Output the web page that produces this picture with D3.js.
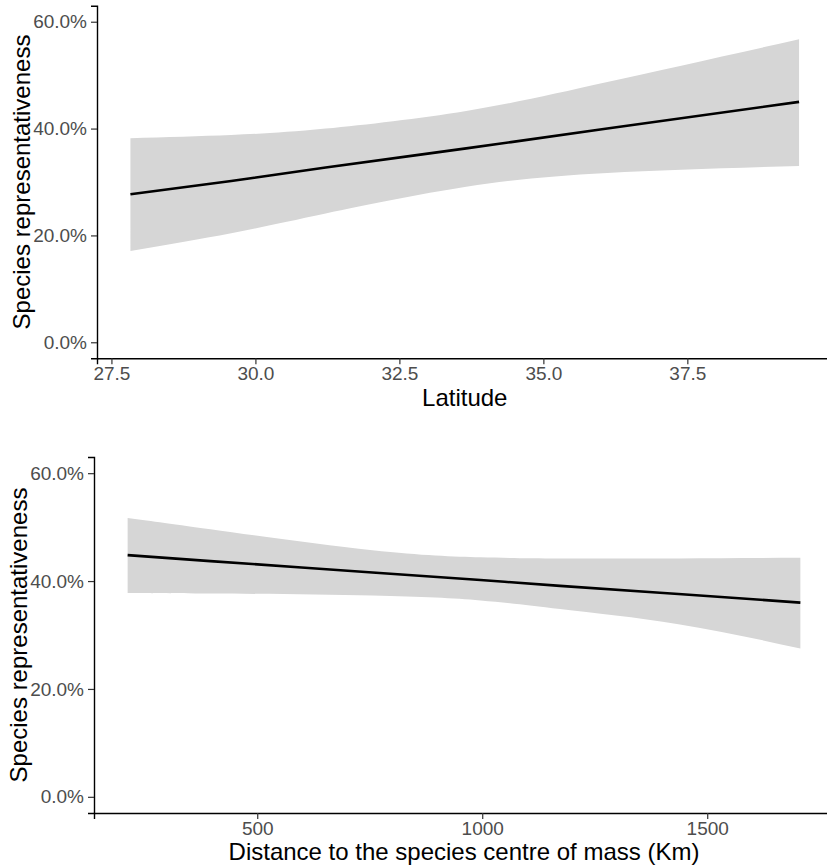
<!DOCTYPE html>
<html>
<head>
<meta charset="utf-8">
<script src="https://cdn.jsdelivr.net/npm/d3@7"></script>
<style>
  html, body { margin: 0; padding: 0; background: #fff; }
  svg { display: block; }
  text { font-family: "Liberation Sans", Arial, sans-serif; }
</style>
</head>
<body>
<svg id="chart" width="827" height="865"></svg>
<script>
// ---- Data (percent values) ----
const latitude  = [27.83, 29.58, 31.22, 33.66, 36.11, 39.44];
const latFit    = [27.7, 30.2, 32.7, 36.3, 40.0, 45.0];
const latUpper  = [38.2, 38.8, 40.0, 43.3, 48.7, 56.7];
const latLower  = [17.1, 20.4, 24.1, 29.1, 31.7, 33.0];

const distance  = [212, 396, 756, 996, 1173, 1436, 1707];
const distFit   = [44.8, 43.7, 41.6, 40.2, 39.1, 37.6, 36.0];
const distUpper = [51.7, 49.6, 45.7, 44.4, 44.2, 44.2, 44.3];
const distLower = [37.8, 37.7, 37.3, 36.4, 34.8, 32.0, 27.5];

const yTicks    = [0, 20, 40, 60];
const latTicks  = [27.5, 30.0, 32.5, 35.0, 37.5];
const distTicks = [500, 1000, 1500];

const yTitle = "Species representativeness";
const latTitle = "Latitude";
const distTitle = "Distance to the species centre of mass (Km)";

// ---- Drawing ----
const svg = d3.select("#chart");
const tickFont = 19;
const titleFont = 24;

function expand(ext, f) {
  const r = ext[1] - ext[0];
  return [ext[0] - f * r, ext[1] + f * r];
}

function panel(cfg) {
  const g = svg.append("g");
  const x = d3.scaleLinear().domain(expand(d3.extent(cfg.xs), 0.05)).range([cfg.left, cfg.right]);
  const y = d3.scaleLinear().domain(expand([0, 60], 0.05)).range([cfg.bottom, cfg.top]);

  const pts = cfg.xs.map((v, i) => ({ x: v, fit: cfg.fit[i], lo: cfg.lo[i], hi: cfg.hi[i] }));

  g.append("path")
    .datum(pts)
    .attr("fill", "#d6d6d6")
    .attr("stroke", "none")
    .attr("d", d3.area().curve(d3.curveNatural)
      .x(d => x(d.x)).y0(d => y(d.lo)).y1(d => y(d.hi)));

  g.append("path")
    .datum(pts)
    .attr("fill", "none")
    .attr("stroke", "#000")
    .attr("stroke-width", 2.6)
    .attr("d", d3.line().curve(d3.curveNatural).x(d => x(d.x)).y(d => y(d.fit)));

  // y axis
  const ya = g.append("g")
    .attr("transform", `translate(${cfg.left},0)`)
    .call(d3.axisLeft(y).tickValues(yTicks).tickSize(6).tickPadding(4)
      .tickFormat(d => d3.format(".1f")(d) + "%"));
  // x axis
  const xa = g.append("g")
    .attr("transform", `translate(0,${cfg.bottom})`)
    .call(d3.axisBottom(x).tickValues(cfg.xticks).tickSize(6).tickPadding(2.5)
      .tickFormat(cfg.xfmt));

  [ya, xa].forEach(a => {
    a.select(".domain").attr("stroke", "#000").attr("stroke-width", 1.4);
    a.selectAll(".tick line").attr("stroke", "#333").attr("stroke-width", 1.2);
    a.selectAll(".tick text").attr("fill", "#4d4d4d")
      .style("font-size", tickFont + "px")
      .style("font-family", '"Liberation Sans", Arial, sans-serif');
  });

  // titles (centred on the panel)
  g.append("text")
    .attr("x", (cfg.left + cfg.right) / 2)
    .attr("y", cfg.bottom + cfg.xtitleDy)
    .attr("text-anchor", "middle")
    .attr("fill", "#000")
    .style("font-size", titleFont + "px")
    .text(cfg.xtitle);

  g.append("text")
    .attr("transform", `translate(${cfg.ytitleX},${(cfg.top + cfg.bottom) / 2}) rotate(-90)`)
    .attr("text-anchor", "middle")
    .attr("fill", "#000")
    .style("font-size", titleFont + "px")
    .text(yTitle);
}

panel({
  xs: latitude, fit: latFit, lo: latLower, hi: latUpper,
  left: 97, right: 832.5, top: 5.7, bottom: 358.3,
  xticks: latTicks, xfmt: d3.format(".1f"), xtitle: latTitle, ytitleX: 30, xtitleDy: 48
});

panel({
  xs: distance, fit: distFit, lo: distLower, hi: distUpper,
  left: 94, right: 834, top: 457, bottom: 813,
  xticks: distTicks, xfmt: d3.format("d"), xtitle: distTitle, ytitleX: 27, xtitleDy: 46.5
});
</script>
</body>
</html>
